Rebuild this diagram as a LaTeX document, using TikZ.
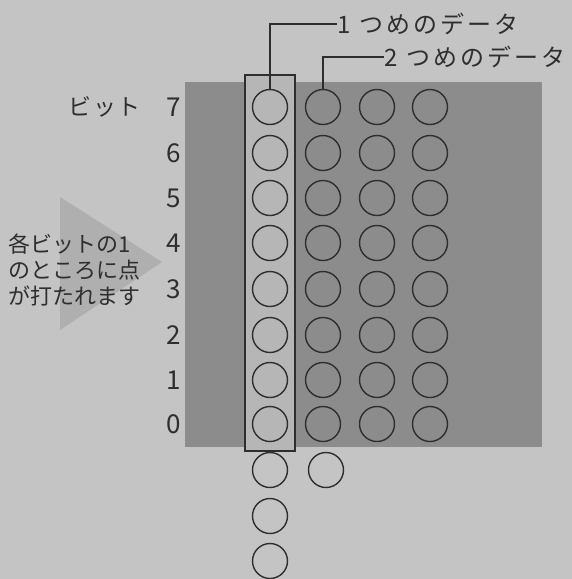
\documentclass[tikz,border=0pt]{standalone}
\usepackage{fontspec}
\newfontfamily\jp{Noto Sans CJK JP}
\newfontfamily\jpw[LetterSpace=8]{Noto Sans CJK JP}
\newfontfamily\jpl[LetterSpace=13]{Noto Sans CJK JP}
\definecolor{paper}{HTML}{C4C4C4}
\definecolor{panel}{HTML}{8C8C8C}
\definecolor{colband}{HTML}{B6B6B6}
\definecolor{arrowtri}{HTML}{AFAFAF}
\definecolor{ink}{HTML}{2E2E2E}
\tikzset{
  dot/.style={circle, draw=ink, line width=1.4pt, minimum size=35pt, inner sep=0pt},
  bitnum/.style={font=\jp\fontsize{26}{26}\selectfont, text=ink, inner sep=0pt},
  lead/.style={draw=ink, line width=1.2pt},
  label/.style={font=\jpl\fontsize{24}{24}\selectfont, text=ink, inner sep=0pt, anchor=west},
}
\begin{document}
\begin{tikzpicture}[x=1pt, y=-1pt]
\fill[paper] (0,0) rectangle (572,579);
\useasboundingbox (0,0) rectangle (572,579);
% arrow triangle behind text
\fill[arrowtri] (60,197) -- (162,262) -- (60,330) -- cycle;
% panel
\fill[panel] (185,82) rectangle (542,447);
% column band
\fill[colband] (245,75) rectangle (295,451);
\draw[ink, line width=2.4pt] (245,75) rectangle (295,451);
% circles
\foreach \r/\y in {7/107,6/153,5/198,4/243,3/289,2/335,1/380,0/424} {
  \node[dot] (c1-\r) at (270,\y) {};
  \node[dot] (c2-\r) at (323,\y) {};
  \node[dot] (c3-\r) at (377,\y) {};
  \node[dot] (c4-\r) at (430,\y) {};
  \node[bitnum] (n\r) at (174,\y) {\r};
}
\node[dot] (c1-a) at (270,470) {};
\node[dot] (c1-b) at (270,516) {};
\node[dot] (c1-c) at (270,561) {};
\node[dot] (c2-a) at (326,470) {};
% bit label
\node[font=\jpw\fontsize{23}{23}\selectfont, text=ink, inner sep=0pt, anchor=west] (bit) at (68,107) {ビット};
% left explanation
\node[font=\jp\fontsize{22}{26}\selectfont, text=ink, inner sep=0pt, align=left, anchor=west] (expl) at (8,270) {各ビットの1\\のところに点\\が打たれます};
% top labels
\node[label] (t1) at (337,24) {1 つめのデータ};
\node[label] (t2) at (384,57) {2 つめのデータ};
\coordinate (k1) at (c1-7.north |- t1.west);
\coordinate (k2) at (c2-7.north |- t2.west);
\draw[lead] (c1-7.north) -- (k1) -- (t1.west);
\draw[lead] (c2-7.north) -- (k2) -- (t2.west);
\end{tikzpicture}
\end{document}
